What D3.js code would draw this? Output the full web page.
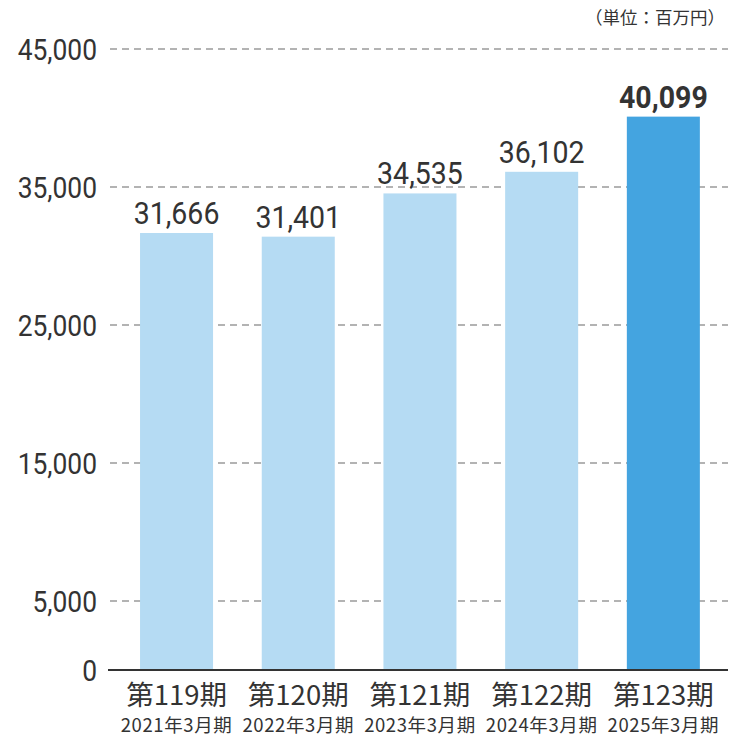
<!DOCTYPE html>
<html><head><meta charset="utf-8">
<script src="https://cdn.jsdelivr.net/npm/d3@7"></script>
<style>body{margin:0;background:#fff}svg{display:block}</style>
</head><body>
<svg id="c" width="740" height="740"></svg>
<script>
const periods = ["第119期","第120期","第121期","第122期","第123期"];
const fiscalYears = ["2021年3月期","2022年3月期","2023年3月期","2024年3月期","2025年3月期"];
const values = [31666, 31401, 34535, 36102, 40099];
const tickValues = [0, 5000, 15000, 25000, 35000, 45000];
const unitLabel = "（単位：百万円）";

const svg = d3.select("#c");
const y = d3.scaleLinear().domain([0, 45000]).range([670, 49]);
const x = d3.scaleBand().domain(periods).range([115.7, 724.2]).paddingInner(0.4).paddingOuter(0.2);
const FONT = "Roboto, 'Noto Sans CJK JP', sans-serif";
const JP = "'Noto Sans CJK JP', Roboto, sans-serif";

// gridlines
svg.append("g").selectAll("line").data(tickValues.filter(d => d > 0)).join("line")
  .attr("x1", 110).attr("x2", 728)
  .attr("y1", d => y(d)).attr("y2", d => y(d))
  .attr("stroke", "#9a9a9a").attr("stroke-width", 1.5).attr("stroke-dasharray", "7,5");

// bars
svg.append("g").selectAll("rect").data(values).join("rect")
  .attr("x", (d, i) => x(periods[i])).attr("width", x.bandwidth())
  .attr("y", d => y(d)).attr("height", d => y(0) - y(d))
  .attr("fill", (d, i) => i === values.length - 1 ? "#44a4e0" : "#b5dbf3");

// baseline
svg.append("line").attr("x1", 108).attr("x2", 728).attr("y1", y(0)).attr("y2", y(0))
  .attr("stroke", "#333").attr("stroke-width", 2);

// y tick labels
const fmt = d3.format(",");
svg.append("g").selectAll("g").data(tickValues).join("g")
  .attr("transform", d => `translate(97,${y(d) + 10.5}) scale(0.88,1)`)
  .append("text").attr("text-anchor", "end")
  .attr("font-family", FONT).attr("font-size", 30).attr("fill", "#333")
  .text(d => fmt(d));

// value labels
svg.append("g").selectAll("g").data(values).join("g")
  .attr("transform", (d, i) => `translate(${x(periods[i]) + x.bandwidth() / 2},${y(d) - 9}) scale(0.92,1)`)
  .append("text").attr("text-anchor", "middle")
  .attr("font-family", FONT).attr("font-size", 31).attr("fill", "#333")
  .attr("font-weight", (d, i) => i === values.length - 1 ? "bold" : "normal")
  .text(d => fmt(d));

// category labels
const cat = svg.append("g").selectAll("g").data(periods).join("g")
  .attr("transform", d => `translate(${x(d) + x.bandwidth() / 2},0)`);
cat.append("text").attr("y", 705)
  .attr("text-anchor", "middle").attr("font-family", JP).attr("font-size", 27.5).attr("fill", "#333")
  .text(d => d);
cat.append("text").attr("y", 732)
  .attr("text-anchor", "middle").attr("font-family", JP).attr("font-size", 18.5)
  .attr("letter-spacing", 0.6).attr("fill", "#333")
  .text((d, i) => fiscalYears[i]);

// unit label
svg.append("text").attr("x", 725).attr("y", 24).attr("text-anchor", "end")
  .attr("font-family", JP).attr("font-size", 17.5).attr("fill", "#333").text(unitLabel);
</script>
</body></html>
